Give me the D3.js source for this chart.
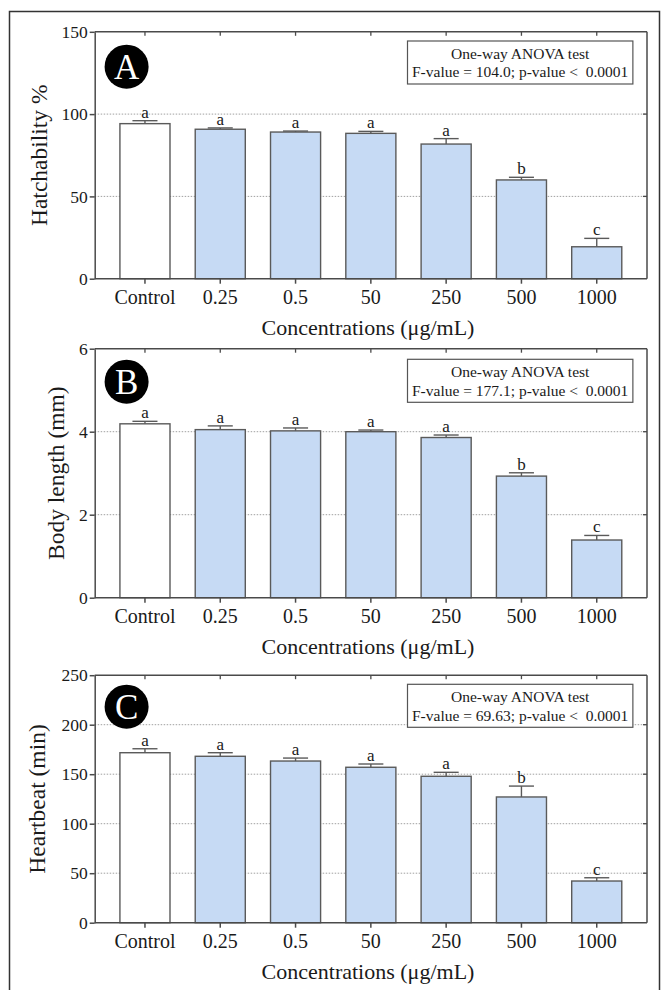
<!DOCTYPE html>
<html><head><meta charset="utf-8">
<script src="https://cdn.jsdelivr.net/npm/d3@7"></script>
<style>
body{margin:0;background:#fff}
svg text{font-family:"Liberation Serif","Tinos","DejaVu Serif","Noto Serif",serif !important;fill:#1a1a1a}
</style>
</head><body>
<svg id="chart" width="662" height="990"></svg>
<script>
// ---------- data ----------
const categories = ["Control", "0.25", "0.5", "50", "250", "500", "1000"];

const hatchMean = [94.2, 90.8, 89.1, 88.3, 81.8, 60.0, 19.4];
const hatchErr  = [1.8, 0.8, 0.6, 1.2, 3.3, 1.6, 5.1];
const hatchLetters = ["a", "a", "a", "a", "a", "b", "c"];
const hatchTicks = [0, 50, 100, 150];

const bodyMean = [4.19, 4.05, 4.02, 4.00, 3.86, 2.93, 1.39];
const bodyErr  = [0.06, 0.09, 0.07, 0.04, 0.06, 0.08, 0.11];
const bodyLetters = ["a", "a", "a", "a", "a", "b", "c"];
const bodyTicks = [0, 2, 4, 6];

const heartMean = [171.7, 168.1, 163.3, 157.0, 147.9, 127.0, 42.1];
const heartErr  = [4.0, 3.6, 3.0, 3.3, 4.0, 11.0, 3.3];
const heartLetters = ["a", "a", "a", "a", "a", "b", "c"];
const heartTicks = [0, 50, 100, 150, 200, 250];

const panelIds = ["A", "B", "C"];
const yTitles = ["Hatchability %", "Body length (mm)", "Heartbeat (min)"];
const fValues = ["104.0", "177.1", "69.63"];
const xTitle = "Concentrations (\u03bcg/mL)";
const anovaTitle = "One-way ANOVA test";

// ---------- layout ----------
const L = 94.7, R = 647;
const layout = [
  {top: 31.8, bottom: 278.7, ytx: 38.8, boxY: 41, circY: 66.7},
  {top: 348.7, bottom: 597.7, ytx: 55.5, boxY: 359.3, circY: 381.7},
  {top: 675.2, bottom: 922.7, ytx: 36.7, boxY: 684.3, circY: 706.7}
];
const seriesMean = [hatchMean, bodyMean, heartMean];
const seriesErr = [hatchErr, bodyErr, heartErr];
const seriesLetters = [hatchLetters, bodyLetters, heartLetters];
const seriesTicks = [hatchTicks, bodyTicks, heartTicks];

const FONT = '"Liberation Serif","Tinos","DejaVu Serif","Noto Serif",serif';
const axisColor = "#4a4a4a";
const barStroke = "#5a5a5a";
const barFill = "#c6daf4";

const svg = d3.select("#chart").attr("font-family", FONT);
svg.append("rect").attr("width", 662).attr("height", 990).attr("fill", "#fff");
svg.append("rect").attr("x", 9.5).attr("y", 11.5).attr("width", 650).attr("height", 1000)
  .attr("fill", "none").attr("stroke", "#333").attr("stroke-width", 1.5);

const x = d3.scaleBand().domain(categories).range([L, R]).padding(0.335);

layout.forEach((lay, p) => {
  const ticks = seriesTicks[p];
  const ymax = d3.max(ticks);
  const y = d3.scaleLinear().domain([0, ymax]).range([lay.bottom, lay.top]);
  const data = categories.map((c, i) => ({c, m: seriesMean[p][i], e: seriesErr[p][i], l: seriesLetters[p][i], i}));
  const g = svg.append("g");

  // gridlines
  g.selectAll(".grid").data(ticks.filter(t => t > 0 && t < ymax)).join("line")
    .attr("x1", L).attr("x2", R).attr("y1", d => y(d)).attr("y2", d => y(d))
    .attr("stroke", "#a0a0a0").attr("stroke-width", 1).attr("stroke-dasharray", "1.5,1.5");

  // error bars
  const cap = x.bandwidth() / 2;
  g.selectAll(".ev").data(data).join("line")
    .attr("x1", d => x(d.c) + x.bandwidth() / 2).attr("x2", d => x(d.c) + x.bandwidth() / 2)
    .attr("y1", d => y(d.m)).attr("y2", d => y(d.m + d.e))
    .attr("stroke", barStroke).attr("stroke-width", 1.4);
  g.selectAll(".ec").data(data).join("line")
    .attr("x1", d => x(d.c) + x.bandwidth() / 2 - cap / 2).attr("x2", d => x(d.c) + x.bandwidth() / 2 + cap / 2)
    .attr("y1", d => y(d.m + d.e)).attr("y2", d => y(d.m + d.e))
    .attr("stroke", barStroke).attr("stroke-width", 1.4);

  // bars
  g.selectAll(".bar").data(data).join("rect")
    .attr("x", d => x(d.c)).attr("width", x.bandwidth())
    .attr("y", d => y(d.m)).attr("height", d => y(0) - y(d.m))
    .attr("fill", d => d.i === 0 ? "#ffffff" : barFill)
    .attr("stroke", barStroke).attr("stroke-width", 1.4);

  // letters
  g.selectAll(".let").data(data).join("text")
    .attr("x", d => x(d.c) + x.bandwidth() / 2).attr("y", d => y(d.m + d.e) - 3)
    .attr("text-anchor", "middle").attr("font-size", 17).text(d => d.l);

  // frame top & right
  g.append("line").attr("x1", L).attr("x2", R).attr("y1", lay.top).attr("y2", lay.top)
    .attr("stroke", axisColor).attr("stroke-width", 1.5);
  g.append("line").attr("x1", R).attr("x2", R).attr("y1", lay.top).attr("y2", lay.bottom)
    .attr("stroke", axisColor).attr("stroke-width", 1.5);
  g.selectAll(".tt").data(categories).join("line")
    .attr("x1", d => x(d) + x.bandwidth() / 2).attr("x2", d => x(d) + x.bandwidth() / 2)
    .attr("y1", lay.top).attr("y2", lay.top + 4)
    .attr("stroke", axisColor).attr("stroke-width", 1.3);
  g.selectAll(".rt").data(ticks.filter(t => t > 0 && t < ymax)).join("line")
    .attr("x1", R - 4).attr("x2", R).attr("y1", d => y(d)).attr("y2", d => y(d))
    .attr("stroke", axisColor).attr("stroke-width", 1.3);

  // left axis
  const ya = g.append("g").attr("transform", `translate(${L},0)`)
    .call(d3.axisLeft(y).tickValues(ticks).tickSize(5).tickSizeOuter(0).tickPadding(2).tickFormat(d3.format("d")));
  ya.attr("font-family", FONT);
  ya.selectAll("path,line").attr("stroke", axisColor).attr("stroke-width", 1.5);
  ya.selectAll("text").attr("font-size", 17.5).attr("fill", "#1a1a1a");

  // bottom axis
  const xa = g.append("g").attr("transform", `translate(0,${lay.bottom})`)
    .call(d3.axisBottom(x).tickSize(5).tickSizeOuter(0));
  xa.attr("font-family", FONT);
  xa.selectAll("path,line").attr("stroke", axisColor).attr("stroke-width", 1.5);
  xa.selectAll("text").attr("font-size", 20).attr("fill", "#1a1a1a")
    .attr("y", 18).attr("dy", 0).attr("dominant-baseline", "central");
  xa.select(".domain").attr("d", `M${L},0H${R}`);

  // axis titles
  g.append("text").attr("x", 368).attr("y", lay.bottom + 49).attr("text-anchor", "middle")
    .attr("dominant-baseline", "central").attr("font-size", 22).text(xTitle);
  g.append("text").attr("transform", `translate(${lay.ytx},${(lay.top + lay.bottom) / 2}) rotate(-90)`)
    .attr("text-anchor", "middle").attr("dominant-baseline", "central").attr("font-size", 23.5).text(yTitles[p]);

  // panel letter
  g.append("circle").attr("cx", 126.6).attr("cy", lay.circY).attr("r", 22).attr("fill", "#000");
  g.append("text").attr("x", 126.6).attr("y", lay.circY + 12).attr("text-anchor", "middle")
    .attr("font-size", 35).style("fill", "#fff").text(panelIds[p]);

  // ANOVA box
  const bx = 407.5;
  const t1 = g.append("text").attr("y", lay.boxY + 12.3).attr("dominant-baseline", "central")
    .attr("text-anchor", "middle").attr("font-size", 15.5).text(anovaTitle);
  const t2 = g.append("text").attr("y", lay.boxY + 30.7).attr("dominant-baseline", "central")
    .attr("text-anchor", "middle").attr("font-size", 15.5)
    .text(`F-value = ${fValues[p]}; p-value <\u00a0 0.0001`);
  const w = Math.max(t1.node().getComputedTextLength(), t2.node().getComputedTextLength()) + 9;
  t1.attr("x", bx + w / 2); t2.attr("x", bx + w / 2);
  g.insert("rect", "text").attr("x", bx).attr("y", lay.boxY).attr("width", w).attr("height", 43)
    .attr("fill", "#fff").attr("stroke", "#555").attr("stroke-width", 1.2);
});
</script>
</body></html>
